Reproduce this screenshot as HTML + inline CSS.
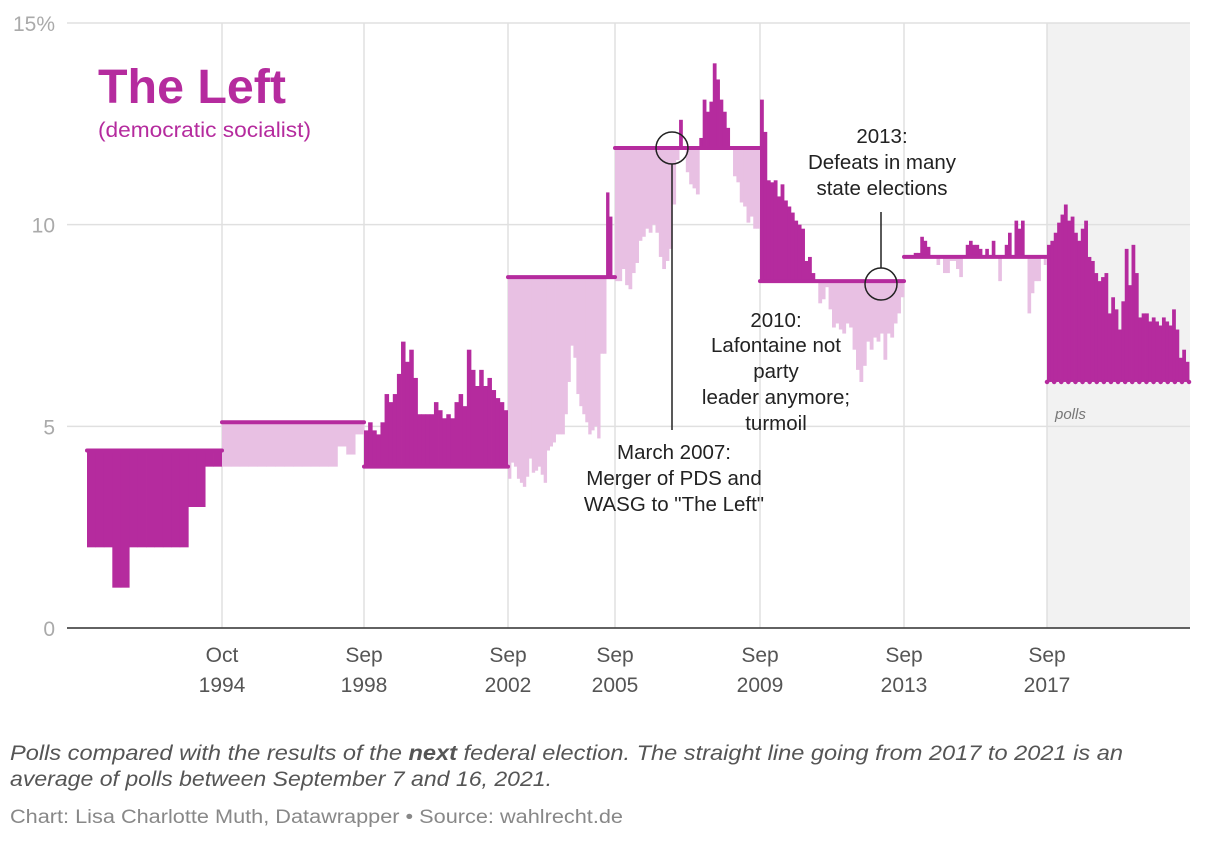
<!DOCTYPE html>
<html><head><meta charset="utf-8">
<style>
body{margin:0;background:#fff;width:1220px;height:840px;overflow:hidden;font-family:"Liberation Sans",sans-serif;}
svg text{font-family:"Liberation Sans",sans-serif;}
</style></head><body>
<svg id="chart" width="1220" height="840" viewBox="0 0 1220 840" xmlns="http://www.w3.org/2000/svg">
<rect x="1047" y="23" width="143" height="605" fill="#f2f2f2"/>
<g id="grid"></g>
<g id="bars"></g>
<g id="lines"></g>
<g id="axes"></g>
<text x="98" y="103" font-size="48" font-weight="bold" fill="#b52b9e" textLength="188" lengthAdjust="spacingAndGlyphs">The Left</text>
<text x="98" y="137" font-size="21" fill="#b52b9e" textLength="213" lengthAdjust="spacingAndGlyphs">(democratic socialist)</text>
<g fill="#222" font-size="20.5" text-anchor="middle">
<circle cx="672" cy="148" r="16" fill="none" stroke="#222" stroke-width="1.5"/>
<line x1="672" y1="164" x2="672" y2="430" stroke="#222" stroke-width="1.5"/>
<text x="674" y="459">March 2007:</text>
<text x="674" y="485">Merger of PDS and</text>
<text x="674" y="511">WASG to "The Left"</text>
</g>
<g fill="#222" font-size="20.5" text-anchor="middle">
<text x="776" y="327">2010:</text>
<text x="776" y="352">Lafontaine not</text>
<text x="776" y="378">party</text>
<text x="776" y="404">leader anymore;</text>
<text x="776" y="430">turmoil</text>
</g>
<g fill="#222" font-size="20.5" text-anchor="middle">
<circle cx="881" cy="284" r="16" fill="none" stroke="#222" stroke-width="1.5"/>
<line x1="881" y1="212" x2="881" y2="268" stroke="#222" stroke-width="1.5"/>
<text x="882" y="143">2013:</text>
<text x="882" y="169">Defeats in many</text>
<text x="882" y="195">state elections</text>
</g>
<text x="1055" y="419" font-size="15" font-style="italic" fill="#777">polls</text>
<text x="10" y="760" font-size="21" font-style="italic" fill="#555" textLength="1113" lengthAdjust="spacingAndGlyphs">Polls compared with the results of the <tspan font-weight="bold">next</tspan> federal election. The straight line going from 2017 to 2021 is an</text>
<text x="10" y="786" font-size="21" font-style="italic" fill="#555" textLength="542" lengthAdjust="spacingAndGlyphs">average of polls between September 7 and 16, 2021.</text>
<text x="10" y="823" font-size="19" fill="#888" textLength="613" lengthAdjust="spacingAndGlyphs">Chart: Lisa Charlotte Muth, Datawrapper • Source: wahlrecht.de</text>
</svg>
<script>
const periodStart=[1990.92,1994.79,1998.73,2002.72,2005.71,2009.74,2013.72,2017.73];
const periodEnd=[1994.79,1998.73,2002.72,2005.71,2009.74,2013.72,2017.73,2021.7];
const resultValues=[4.4,5.1,4.0,8.7,11.9,8.6,9.2,6.1];
const allDark=[true,false,false,false,false,false,false,false];
const polls1=[2,2,2,1,1,2,2,2,2,2,2,2,3,3,4,4];
const polls2=[4,4,4,4,4,4,4,4,4,4,4,4,4,4.5,4.3,4.8];
const polls3=[4.9,5.1,4.9,4.8,5.1,5.8,5.6,5.8,6.3,7.1,6.6,6.9,6.2,5.3,5.3,5.3,5.3,5.6,5.4,5.2,5.3,5.2,5.6,5.8,5.5,6.9,6.4,6.0,6.4,6.0,6.2,5.9,5.7,5.6,5.4];
const polls4=[3.7,4.1,4.0,3.7,3.6,3.5,3.75,4.2,3.85,3.9,4.0,3.8,3.6,4.4,4.5,4.6,4.8,4.8,4.8,5.3,6.1,7.0,6.7,5.8,5.5,5.3,5.1,4.8,4.9,5.0,4.7,6.8,6.8,10.8,10.2,8.7];
const polls5=[8.6,8.6,8.9,8.5,8.4,8.8,9.05,9.6,9.7,9.9,9.8,10.0,9.8,9.2,8.9,9.1,9.4,10.5,11.6,12.6,11.9,11.3,11.0,10.9,10.75,12.15,13.1,12.8,13.05,14.0,13.6,13.1,12.8,12.4,11.9,11.2,11.05,10.55,10.45,10.05,10.2,9.9,9.9];
const polls6=[13.1,12.3,11.1,11.05,11.1,10.7,11.0,10.6,10.45,10.3,10.1,10.0,9.9,9.1,9.2,8.8,8.6,8.05,8.15,8.45,7.9,7.45,7.55,7.4,7.3,7.55,7.45,6.9,6.4,6.1,6.5,7.1,6.9,7.2,7.1,7.3,6.65,7.3,7.2,7.55,7.8,8.2];
const polls7=[9.2,9.2,9.2,9.3,9.3,9.7,9.6,9.45,9.2,9.2,9.0,9.2,8.8,8.8,9.1,9.1,8.9,8.7,9.2,9.5,9.6,9.5,9.5,9.4,9.2,9.4,9.2,9.6,9.2,8.6,9.2,9.5,9.8,9.2,10.1,9.9,10.1,9.2,7.8,8.3,8.6,8.6,9.2,9.0];
const polls8=[9.5,9.6,9.8,10.05,10.25,10.5,10.1,10.2,9.8,9.6,9.9,10.1,9.2,9.1,8.8,8.6,8.7,8.8,7.8,8.2,7.9,7.4,8.1,9.4,8.5,9.5,8.8,7.7,7.8,7.8,7.6,7.7,7.6,7.5,7.7,7.6,7.5,7.9,7.4,6.7,6.9,6.6];
const pollSeries=[polls1,polls2,polls3,polls4,polls5,polls6,polls7,polls8];
const yTicks=[0,5,10,15];
const yTickLabels=["0","5","10","15%"];
const xTicks=[1994.79,1998.73,2002.72,2005.71,2009.74,2013.72,2017.73];
const xTickMonth=["Oct","Sep","Sep","Sep","Sep","Sep","Sep"];
const xTickYear=["1994","1998","2002","2005","2009","2013","2017"];

const NS="http://www.w3.org/2000/svg";
const knotT=[1990.92,1994.79,1998.73,2002.72,2005.71,2009.74,2013.72,2017.73,2021.7];
const knotX=[87,222,364,508,615,760,904,1047,1189];
function xs(t){
  for(let i=0;i<knotT.length-1;i++){
    if(t<=knotT[i+1]||i===knotT.length-2){return knotX[i]+(t-knotT[i])*(knotX[i+1]-knotX[i])/(knotT[i+1]-knotT[i]);}
  }
}
function ys(v){return 628-v*(628-23)/15;}
function mk(tag,attrs,parent){const e=document.createElementNS(NS,tag);for(const k in attrs)e.setAttribute(k,attrs[k]);parent.appendChild(e);return e;}
const grid=document.getElementById('grid'),bars=document.getElementById('bars'),lines=document.getElementById('lines'),axes=document.getElementById('axes');
yTicks.forEach((v,i)=>{
  const l=mk('line',{x1:67,x2:1190,y1:ys(v),y2:ys(v),stroke:'#e0e0e0','stroke-width':1.5},grid);
  
  
  const t=mk('text',{x:55,y:ys(v)+8,'text-anchor':'end','font-size':21,fill:'#aaa'},axes);
  t.textContent=yTickLabels[i];
  
  
});
xTicks.forEach((tt,i)=>{
  const x=xs(tt);
  const l=mk('line',{x1:x,x2:x,y1:23,y2:628,stroke:'#e0e0e0','stroke-width':1.5},grid);
  
  
  const t1=mk('text',{x:x,y:662,'text-anchor':'middle','font-size':21,fill:'#555'},axes);
  t1.textContent=xTickMonth[i];
  
  
  const t2=mk('text',{x:x,y:692,'text-anchor':'middle','font-size':21,fill:'#555'},axes);
  t2.textContent=xTickYear[i];
  
  
});
const base=mk('line',{x1:67,x2:1190,y1:628,y2:628,stroke:'#333','stroke-width':1.5},axes);


pollSeries.forEach((ser,p)=>{
  const x0=xs(periodStart[p]),x1=xs(periodEnd[p]);const w=(x1-x0)/ser.length;const r=resultValues[p];
  ser.forEach((v,i)=>{
    if(v===r)return;
    const dark=allDark[p]||v>r;
    const b=mk('rect',{x:x0+i*w,width:w+0.4,y:Math.min(ys(v),ys(r)),height:Math.abs(ys(v)-ys(r)),fill:dark?'#b52b9e':'#e8c0e3'},bars);
    
    
  });
  const attrs={x1:x0,x2:x1,y1:ys(r),y2:ys(r),stroke:'#b52b9e','stroke-width':4,'stroke-linecap':'round'};
  if(p===7){attrs['stroke-dasharray']='0.1 7';attrs['stroke-width']=4.5;}
  const ln=mk('line',attrs,lines);
  
  
});
</script>
</body></html>
